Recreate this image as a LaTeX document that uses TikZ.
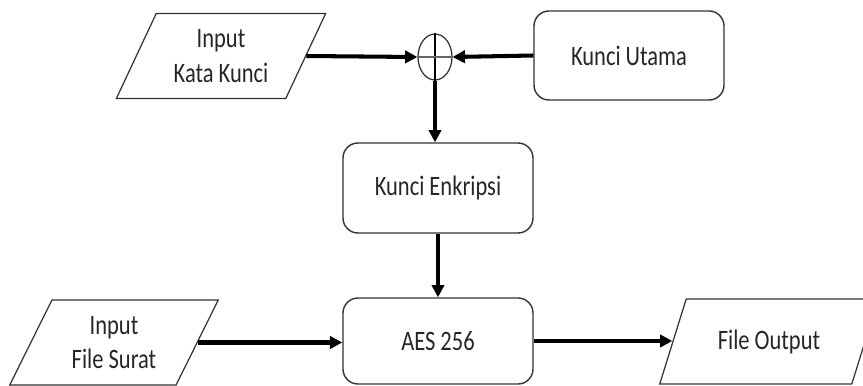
\documentclass[tikz,border=0pt]{standalone}
\usepackage{fontspec}
\setmainfont{Carlito}[FakeStretch=0.8]
\usetikzlibrary{positioning, arrows.meta, shapes.geometric}

\begin{document}
\begin{tikzpicture}[
    >={Triangle[length=7pt, width=7pt]},
    font=\fontsize{16}{19.5}\selectfont,
    text=black!85,
    flow/.style={->, line width=2.3pt},
    proc/.style={draw=black!80, line width=0.8pt, rounded corners=0.3cm, minimum width=3.8cm, minimum height=1.78cm, align=center},
    io/.style={draw=black!80, line width=0.7pt, trapezium, trapezium left angle=63, trapezium right angle=117, trapezium stretches=true, minimum width=4.2cm, minimum height=1.7cm, align=center}
]

    % page size of the original figure
    \useasboundingbox (0,0) rectangle (17.26,-7.7);

    % Key part
    \node[io] (katakunci) at (4.42,-1.12) {Input\\Kata Kunci};
    \node[draw=black!80, line width=0.7pt, ellipse, minimum width=0.68cm, minimum height=0.92cm, inner sep=0pt] (xor) at (8.70,-1.14) {};
    \draw[line width=0.6pt] (xor.north) -- (xor.south);
    \draw[line width=0.6pt, black!60] (xor.west) -- (xor.east);
    \node[proc] (utama) at (12.58,-1.11) {Kunci Utama};
    \node[proc, minimum height=1.8cm] (enkripsi) at (8.76,-3.76) {Kunci Enkripsi};

    % Encryption part
    \node[io] (surat) at (2.28,-6.85) {Input\\File Surat};
    \node[proc, minimum height=1.72cm] (aes) at (8.76,-6.82) {AES 256};
    \node[io, minimum width=4.4cm] (output) at (15.38,-6.83) {File Output};

    % Arrows
    \draw[flow] (katakunci.east) -- (xor.west);
    \draw[flow] (utama.west) -- (xor.east);
    \draw[flow] (xor.south) -- (xor.south |- enkripsi.north);
    \draw[flow] (enkripsi.south) -- (aes.north);
    \draw[flow] (surat.east) -- (surat.east -| aes.west);
    \draw[flow] (aes.east) -- (aes.east -| output.west);

\end{tikzpicture}
\end{document}
